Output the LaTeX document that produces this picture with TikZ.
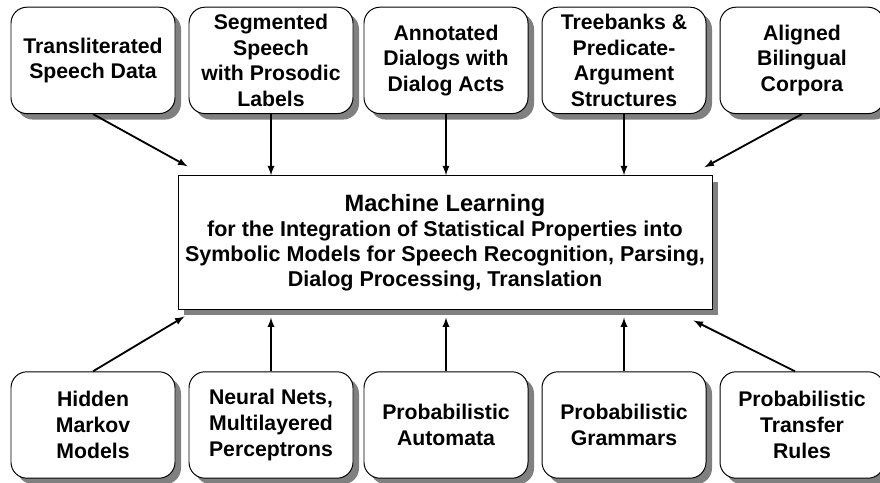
\documentclass[tikz,border=0pt]{standalone}
\usepackage{fontspec}
\setmainfont{Liberation Sans}
\usetikzlibrary{shadows}

\begin{document}
\begin{tikzpicture}[>=latex]

\tikzstyle box=[draw, line width=0.7pt, fill=white, align=center, inner sep=1pt, minimum width=4.1cm, minimum height=2.66cm, font=\bfseries\fontsize{15.1}{18.3}\selectfont, drop shadow={shadow xshift=0.15cm, shadow yshift=-0.15cm, opacity=1, fill=black!50}]
\tikzstyle data=[box, rounded corners=0.4cm]
\tikzstyle model=[box, rounded corners=0.4cm]
\tikzstyle learn=[box, minimum width=13.35cm, minimum height=3.33cm, font=\bfseries\fontsize{15.3}{17.8}\selectfont]
\tikzstyle arrow=[->, line width=1.3pt]

\useasboundingbox (0,0) rectangle (22,-12.075);

\node (ml) [learn] at (11.125,-6.06) {{\fontsize{16.8}{17.8}\selectfont Machine Learning}\\for the Integration of Statistical Properties into\\Symbolic Models for Speech Recognition, Parsing,\\Dialog Processing, Translation};

\node (d1) [data] at (2.325,-1.51)  {Transliterated\\Speech Data};
\node (d2) [data] at (6.775,-1.51)  {Segmented\\Speech\\with Prosodic\\Labels};
\node (d3) [data] at (11.15,-1.51)  {Annotated\\Dialogs with\\Dialog Acts};
\node (d4) [data] at (15.6,-1.51)   {Treebanks \&\\Predicate-\\Argument\\Structures};
\node (d5) [data] at (20.05,-1.51)  {Aligned\\Bilingual\\Corpora};

\node (m1) [model] at (2.325,-10.625) {Hidden\\Markov\\Models};
\node (m2) [model] at (6.775,-10.625) {Neural Nets,\\Multilayered\\Perceptrons};
\node (m3) [model] at (11.15,-10.625) {Probabilistic\\Automata};
\node (m4) [model] at (15.6,-10.625)  {Probabilistic\\Grammars};
\node (m5) [model] at (20.05,-10.625) {Probabilistic\\Transfer\\Rules};

\draw [arrow] (d1.south) -- ([shift={(0.25,0.225)}]ml.north west);
\draw [arrow] (d2.south) -- (d2 |- ml.north);
\draw [arrow] (d3.south) -- (d3 |- ml.north);
\draw [arrow] (d4.south) -- (d4 |- ml.north);
\draw [arrow] (d5.south) -- ([shift={(-0.2,0.2)}]ml.north east);

\draw [arrow] (m1.north) -- ([shift={(0.175,-0.175)}]ml.south west);
\draw [arrow, shorten >=0.2cm] (m2.north) -- (m2 |- ml.south);
\draw [arrow, shorten >=0.2cm] (m3.north) -- (m3 |- ml.south);
\draw [arrow, shorten >=0.2cm] (m4.north) -- (m4 |- ml.south);
\draw [arrow] ([xshift=-0.175cm]m5.north) -- ([shift={(-0.475,-0.275)}]ml.south east);

\end{tikzpicture}
\end{document}
